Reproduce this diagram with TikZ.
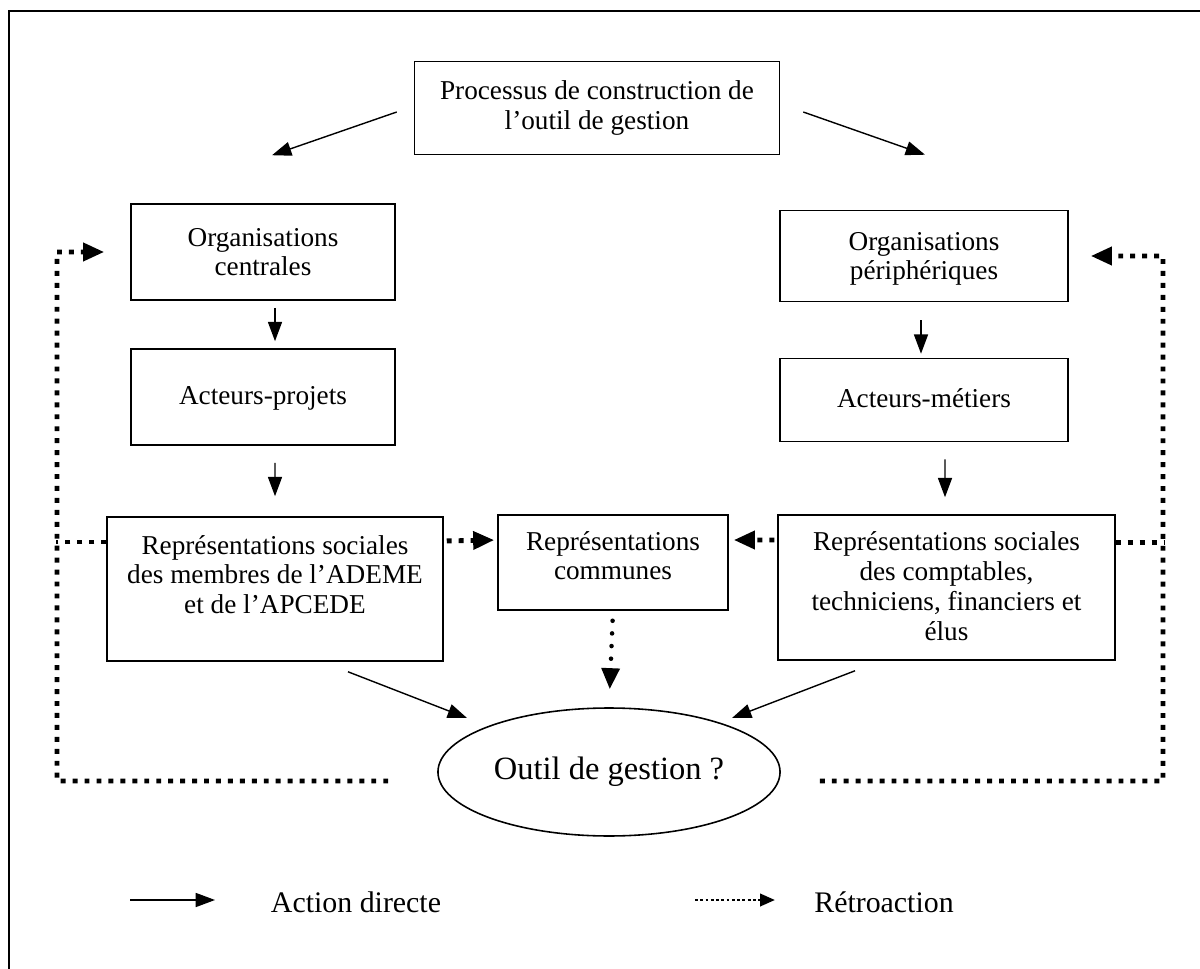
\documentclass[tikz,border=0pt]{standalone}
\usepackage{fontspec}
\setmainfont{Liberation Serif}
\usetikzlibrary{arrows.meta,positioning,shapes.geometric}

\tikzset{
  box/.style={draw, line width=0.9pt, align=center, inner sep=2pt,
    font=\fontsize{15.5}{17}\selectfont},
  direct/.style={line width=0.8pt, -{Triangle[length=11pt,width=8pt]}},
  retro/.style={line width=2.8pt, dash pattern=on 2.8pt off 4pt,
    -{Triangle[length=12pt,width=10pt]}},
  retroline/.style={line width=2.8pt, dash pattern=on 2.8pt off 4pt},
  commune/.style={line width=2.6pt, line cap=round, dash pattern=on 0pt off 7.2pt,
    -{Triangle[length=12pt,width=10pt]}},
  legretro/.style={line width=1.6pt, dash pattern=on 1.6pt off 1.4pt,
    -{Triangle[length=8.5pt,width=7pt]}},
  legend/.style={font=\fontsize{17}{20}\selectfont},
}

\begin{document}
\begin{tikzpicture}[x=0.02cm, y=-0.02cm]
  \useasboundingbox (0,0) rectangle (1200,969);
  \draw[line width=1.1pt] (9,969) -- (9,11) -- (1200,11);

  \node[box, minimum width=7.3cm, minimum height=1.86cm] (proc) at (597,108)
    {Processus de construction de\\ l’outil de gestion};

  \node[box, minimum width=5.28cm, minimum height=1.92cm, text depth=0pt] (orgc) at (263,252)
    {Organisations\\ centrales};
  \node[box, minimum width=5.76cm, minimum height=1.82cm, text depth=0pt] (orgp) at (924,256)
    {Organisations\\ périphériques};

  \node[box, minimum width=5.28cm, minimum height=1.92cm, text height=11pt, text depth=3pt] (actp) at (263,397) {Acteurs-projets};
  \node[box, minimum width=5.76cm, minimum height=1.66cm, text height=11pt, text depth=3pt] (actm) at (924,400) {Acteurs-métiers};

  \node[box, minimum width=6.72cm, minimum height=2.88cm, text depth=0.58cm] (repl) at (275,589)
    {Représentations sociales\\ des membres de l’ADEME\\ et de l’APCEDE};
  \node[box, minimum width=4.6cm, minimum height=1.9cm, text depth=0.28cm] (repc) at (613,562.5)
    {Représentations\\ communes};
  \node[box, minimum width=6.74cm, minimum height=2.9cm, text depth=0.05cm] (repr) at (946.5,587.5)
    {Représentations sociales\\ des comptables,\\ techniciens, financiers et\\ élus};

  \node[draw, ellipse, line width=0.9pt, minimum width=5.68cm, minimum height=2.56cm,
    font=\fontsize{18.5}{20}\selectfont] (outil) at (609,772) {Outil de gestion ?};

  % action directe
  \draw[direct] ([xshift=-0.34cm, yshift=-0.08cm]proc.west) -- ([xshift=0.18cm, yshift=0.96cm]orgc.north);
  \draw[direct] ([xshift=0.46cm, yshift=-0.08cm]proc.east) -- ([xshift=0.02cm, yshift=1.1cm]orgp.north);
  \draw[direct, shorten <=0.14cm, shorten >=0.14cm] ([xshift=0.24cm]orgc.south) -- ([xshift=0.24cm]actp.north);
  \draw[direct, shorten <=0.36cm, shorten >=0.08cm] ([xshift=-0.06cm]orgp.south) -- ([xshift=-0.06cm]actm.north);
  \draw[direct, shorten <=0.34cm, shorten >=0.4cm] ([xshift=0.24cm]actp.south) -- ([xshift=0cm]repl.north);
  \draw[direct, shorten <=0.34cm, shorten >=0.34cm] ([xshift=0.42cm]actm.south) -- ([xshift=-0.03cm]repr.north);
  \draw[direct] ([xshift=1.46cm, yshift=-0.2cm]repl.south) -- ([xshift=-2.84cm, yshift=1.08cm]outil.center);
  \draw[direct] ([xshift=-1.83cm, yshift=-0.2cm]repr.south) -- ([xshift=2.46cm, yshift=1.08cm]outil.center);

  % retroaction
  \draw[retro, shorten <=0.06cm, shorten >=0.06cm] ([yshift=0.96cm]repl.east) -- ([yshift=0.45cm]repc.west);
  \draw[retro, shorten >=0.1cm] ([xshift=-0.06cm, yshift=0.95cm]repr.west) -- ([yshift=0.45cm]repc.east);
  \draw[commune, shorten <=0.2cm, shorten >=0.36cm] (repc.south) -- (outil.north);

  \coordinate (retroG) at (57,781);
  \coordinate (retroD) at (1163,781);
  \draw[retro] ([xshift=-0.98cm, yshift=-0.18cm]outil.west) -- (retroG) |- ([xshift=-0.52cm]orgc.west);
  \draw[retro] ([xshift=0.78cm, yshift=-0.18cm]outil.east) -- (retroD) |- ([xshift=0.44cm]orgp.east);
  \draw[retroline] ([yshift=0.94cm]repl.west) -- ++(-1cm,0);
  \draw[retroline] ([yshift=0.9cm]repr.east) -- ++(0.96cm,0);

  % legende
  \coordinate (ldA) at (130,900);
  \coordinate (ldB) at (215,900);
  \coordinate (lrA) at (695,900);
  \coordinate (lrB) at (775,900);
  \draw[direct] (ldA) -- (ldB);
  \draw[legretro] (lrA) -- (lrB);
  \node[legend] (legD) at (356,902) {Action directe};
  \node[legend] (legR) at (884,902) {Rétroaction};
\end{tikzpicture}
\end{document}
